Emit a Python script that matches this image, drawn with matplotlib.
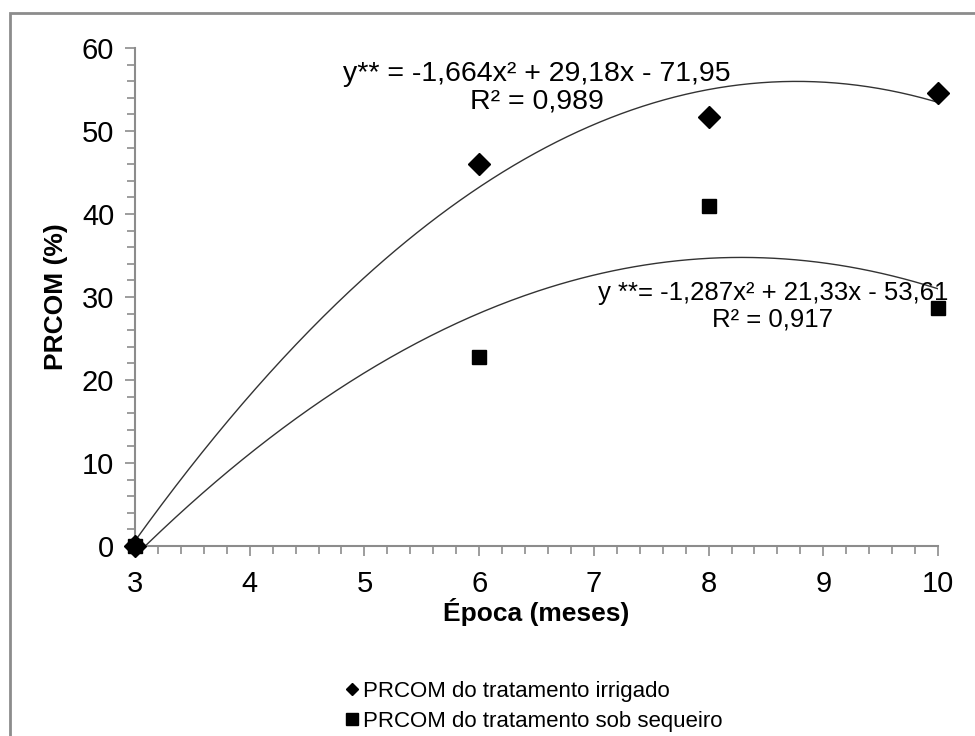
import numpy as np
import matplotlib
matplotlib.use("Agg")
import matplotlib.pyplot as plt
from matplotlib.patches import Rectangle
from matplotlib.lines import Line2D
from matplotlib.ticker import MultipleLocator

plt.rcParams['font.family'] = ['Liberation Sans', 'DejaVu Sans']

# data
epoca = [3, 6, 8, 10]
irrigado = [0, 46.0, 51.7, 54.6]
sequeiro = [0, 22.8, 41.0, 28.7]

# trendline coefficients from the equations shown
coef_irrigado = [-1.664, 29.18, -71.95]
coef_sequeiro = [-1.287, 21.33, -53.61]

eq_irrigado = 'y** = -1,664x² + 29,18x - 71,95\nR² = 0,989'
eq_sequeiro = 'y **= -1,287x² + 21,33x - 53,61\nR² = 0,917'

lab_irrigado = 'PRCOM do tratamento irrigado'
lab_sequeiro = 'PRCOM do tratamento sob sequeiro'

axis_grey = '#8c8c8c'

fig = plt.figure(figsize=(9.75, 7.36), dpi=100)
ax = fig.add_axes([135 / 975, 1 - 546 / 736, (938 - 135) / 975, (546 - 48) / 736])

xs = np.linspace(3, 10, 300)
ax.plot(xs, np.polyval(coef_irrigado, xs), color='#333333', lw=1.0)
ax.plot(xs, np.polyval(coef_sequeiro, xs), color='#333333', lw=1.0)

ax.plot(epoca, irrigado, 'D', color='black', ms=11, clip_on=False, zorder=5)
ax.plot(epoca, sequeiro, 's', color='black', ms=10.5, clip_on=False, zorder=5)

ax.set_xlim(3, 10)
ax.set_ylim(0, 60)
ax.xaxis.set_major_locator(MultipleLocator(1))
ax.xaxis.set_minor_locator(MultipleLocator(0.2))
ax.yaxis.set_major_locator(MultipleLocator(10))
ax.yaxis.set_minor_locator(MultipleLocator(2))

for s in ['top', 'right']:
    ax.spines[s].set_visible(False)
for s in ['left', 'bottom']:
    ax.spines[s].set_color(axis_grey)
    ax.spines[s].set_linewidth(1.5)

ax.tick_params(which='both', direction='out', color=axis_grey, width=1.2, labelsize=21)
ax.tick_params(which='major', length=7)
ax.tick_params(which='minor', length=6)
ax.tick_params(axis='x', pad=10)
ax.tick_params(axis='y', pad=8)

ax.set_xlabel('Época (meses)', fontsize=19, fontweight='bold', labelpad=0)
ax.set_ylabel('PRCOM (%)', fontsize=19, fontweight='bold', labelpad=10)

ax.text(6.50, 55.2, eq_irrigado, fontsize=20.5, ha='center', va='center', linespacing=1.1)
ax.text(8.56, 28.9, eq_sequeiro, fontsize=18.5, ha='center', va='center', linespacing=1.15)

handles = [
    Line2D([], [], ls='none', marker='D', color='black', ms=6),
    Line2D([], [], ls='none', marker='s', color='black', ms=8),
]
fig.legend(handles, [lab_irrigado, lab_sequeiro], loc='upper left',
           bbox_to_anchor=(345 / 975, 1 - 681 / 736), frameon=False,
           fontsize=16, handlelength=0.6, handletextpad=0.2,
           labelspacing=0.4, borderpad=0, borderaxespad=0)

# outer chart border (cut off at right and bottom in the reference)
fig.patches.append(Rectangle((10 / 975, -0.1), 1.1, 1 - 13 / 736 + 0.1,
                             transform=fig.transFigure, fill=False,
                             edgecolor=axis_grey, lw=2, clip_on=False))

fig.savefig('out.png', dpi=100)
